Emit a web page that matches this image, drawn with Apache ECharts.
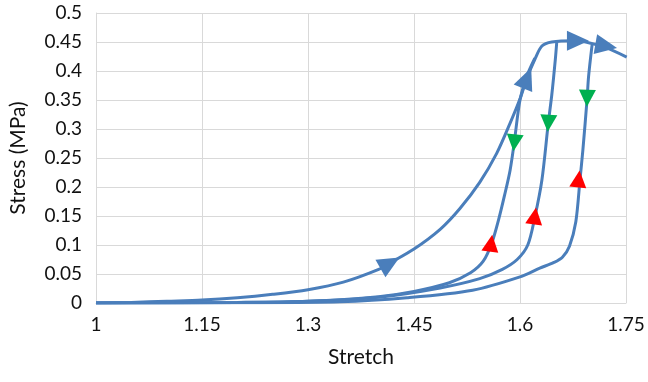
<!DOCTYPE html>
<html><head><meta charset="utf-8">
<script src="https://cdn.jsdelivr.net/npm/echarts@6/dist/echarts.min.js"></script>
<style>html,body{margin:0;padding:0;background:#fff}#c{width:648px;height:382px}</style>
</head><body><div id="c"></div>
<script>
// Primary loading path
const primaryStretch = [1.0, 1.05, 1.1, 1.15, 1.2, 1.25, 1.3, 1.35, 1.4, 1.416, 1.45, 1.487, 1.515, 1.543, 1.567, 1.586, 1.600, 1.610, 1.621, 1.631, 1.645, 1.678, 1.700, 1.720, 1.751];
const primaryStress  = [0.0, 0.001, 0.003, 0.005, 0.009, 0.015, 0.023, 0.036, 0.058, 0.069, 0.093, 0.127, 0.163, 0.208, 0.258, 0.310, 0.352, 0.388, 0.420, 0.443, 0.450, 0.452, 0.448, 0.441, 0.424];
// Unload / reload cycle 1
const cycle1Stretch = [1.0, 1.2, 1.3, 1.4, 1.45, 1.5, 1.53, 1.548, 1.560, 1.570, 1.578, 1.586, 1.592, 1.600, 1.610, 1.621];
const cycle1Stress  = [0.0, 0.001, 0.003, 0.011, 0.020, 0.035, 0.052, 0.072, 0.103, 0.145, 0.185, 0.229, 0.278, 0.350, 0.392, 0.422];
// Unload / reload cycle 2
const cycle2Stretch = [1.0, 1.2, 1.3, 1.4, 1.487, 1.543, 1.575, 1.596, 1.611, 1.621, 1.631, 1.640, 1.645, 1.650, 1.652];
const cycle2Stress  = [0.0, 0.001, 0.003, 0.010, 0.026, 0.042, 0.058, 0.075, 0.100, 0.148, 0.212, 0.310, 0.359, 0.420, 0.450];
// Unload / reload cycle 3
const cycle3Stretch = [1.0, 1.2, 1.345, 1.440, 1.533, 1.600, 1.628, 1.648, 1.660, 1.670, 1.679, 1.685, 1.689, 1.695, 1.697, 1.702];
const cycle3Stress  = [0.0, 0.0005, 0.002, 0.009, 0.022, 0.045, 0.060, 0.070, 0.079, 0.098, 0.140, 0.214, 0.264, 0.353, 0.390, 0.445];
// Direction markers
const loadArrowStretch   = [1.416, 1.610, 1.682, 1.722];
const loadArrowStress    = [0.069, 0.388, 0.452, 0.443];
const unloadArrowStretch = [1.592, 1.640, 1.695];
const unloadArrowStress  = [0.276, 0.310, 0.353];
const reloadArrowStretch = [1.559, 1.621, 1.683];
const reloadArrowStress  = [0.103, 0.150, 0.214];
const xTicks = [1, 1.15, 1.3, 1.45, 1.6, 1.75];

// styling
const loadArrowAngles = [-60, -22, -90, -100];
const unloadArrowAngles = [174, 176, 178];
const reloadArrowAngles = [-8, -8, -6];

const pairs = (xs, ys) => xs.map((x, i) => [x, ys[i]]);
const BLUE = '#4a7ebb';
const FONT = 'Lato';

const lineSeries = (xs, ys) => ({
  type: 'line', data: pairs(xs, ys), showSymbol: false, smooth: 0.3,
  lineStyle: { color: BLUE, width: 3 }, z: 2, animation: false
});
const arrowSeries = (xs, ys, angles, color, size) => ({
  type: 'scatter',
  data: pairs(xs, ys).map((p, i) => ({ value: p, symbolRotate: angles[i] })),
  symbol: 'triangle', symbolSize: size,
  itemStyle: { color: color, opacity: 1 }, z: 5, animation: false
});

const chart = echarts.init(document.getElementById('c'));
chart.setOption({
  backgroundColor: '#fff',
  animation: false,
  grid: { left: 96, right: 22, top: 13, bottom: 79, containLabel: false },
  xAxis: {
    type: 'value', min: xTicks[0], max: xTicks[xTicks.length - 1], interval: 0.15,
    name: 'Stretch', nameLocation: 'middle', nameGap: 44,
    nameTextStyle: { fontFamily: FONT, fontSize: 21, color: '#111' },
    axisLine: { show: true, lineStyle: { color: '#d9d9d9', width: 1 } },
    axisTick: { show: false },
    axisLabel: { fontFamily: FONT, fontSize: 19, color: '#111', margin: 12,
      formatter: v => String(+v.toFixed(2)) },
    splitLine: { show: true, lineStyle: { color: '#d9d9d9', width: 1 } }
  },
  yAxis: {
    type: 'value', min: 0, max: 0.5, interval: 0.05,
    name: 'Stress (MPa)', nameLocation: 'middle', nameGap: 67,
    nameTextStyle: { fontFamily: FONT, fontSize: 21, color: '#111' },
    axisLine: { show: true, lineStyle: { color: '#d9d9d9', width: 1 } },
    axisTick: { show: false },
    axisLabel: { fontFamily: FONT, fontSize: 19, color: '#111', margin: 14,
      formatter: v => String(+v.toFixed(2)) },
    splitLine: { show: true, lineStyle: { color: '#d9d9d9', width: 1 } }
  },
  series: [
    lineSeries(primaryStretch, primaryStress),
    lineSeries(cycle1Stretch, cycle1Stress),
    lineSeries(cycle2Stretch, cycle2Stress),
    lineSeries(cycle3Stretch, cycle3Stress),
    arrowSeries(loadArrowStretch, loadArrowStress, loadArrowAngles, BLUE, [20, 22]),
    arrowSeries(unloadArrowStretch, unloadArrowStress, unloadArrowAngles, '#00b050', [17, 17]),
    arrowSeries(reloadArrowStretch, reloadArrowStress, reloadArrowAngles, '#ff0000', [17, 17])
  ]
});
</script>
</body></html>
